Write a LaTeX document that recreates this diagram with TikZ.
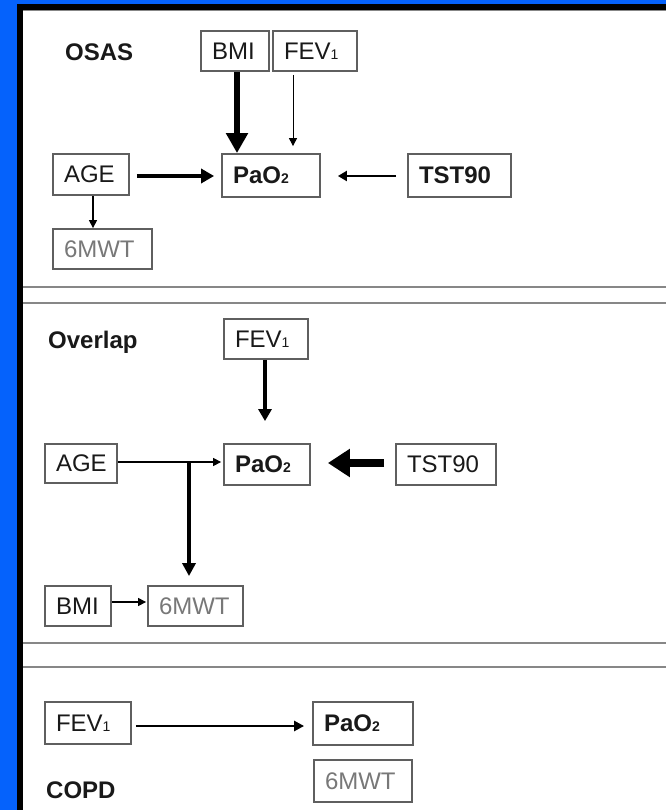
\documentclass[tikz,border=0pt]{standalone}
\usepackage{fontspec}
\setmainfont{Liberation Sans}
\usetikzlibrary{arrows.meta}
\definecolor{bgblue}{RGB}{5,98,252}
\definecolor{boxc}{RGB}{95,95,95}
\definecolor{txtc}{RGB}{25,25,25}
\definecolor{greyt}{RGB}{120,120,120}
\definecolor{sepc}{RGB}{135,135,135}
\newcommand{\lsub}[1]{{\fontsize{14}{14}\selectfont #1}}
\tikzset{
  bx/.style={draw=boxc, line width=1.8pt, inner xsep=11pt, inner ysep=0pt, align=left,
    text=txtc, font=\fontsize{24}{26}\selectfont},
  title/.style={anchor=west, inner sep=0pt, text=txtc, font=\fontsize{24}{26}\selectfont\bfseries},
  sep/.style={draw=sepc, line width=2pt},
  arrA/.style={line width=#1, draw=black},
}
\begin{document}
\begin{tikzpicture}[x=1pt,y=-1pt]
\useasboundingbox (0,0) rectangle (666,810);
\fill[bgblue] (0,0) rectangle (666,810);
\fill[black] (17,4) rectangle (666,810);
\fill[white] (23,10) rectangle (666,810);
\draw[sepc, line width=1.5pt] (23,10.5) -- (666,10.5);
\draw[sep] (23,287) -- (666,287);
\draw[sep] (23,303) -- (666,303);
\draw[sep] (23,643) -- (666,643);
\draw[sep] (23,667) -- (666,667);

% ---------- OSAS ----------
\node[title] (tosas) at (65,52) {OSAS};
\node[bx, text width=46pt, minimum height=40pt] (bmia) at (235,51) {BMI};
\node[bx, text width=62pt, minimum height=40pt] (feva) at (315,51) {FEV\lsub{1}};
\node[bx, text width=54pt, minimum height=41pt] (agea) at (91,174.5) {AGE};
\node[bx, text width=76pt, minimum height=43pt, font=\fontsize{24}{26}\selectfont\bfseries] (paoa) at (271,175.5) {PaO\lsub{2}};
\node[bx, text width=81pt, minimum height=43pt, font=\fontsize{24}{26}\selectfont\bfseries] (tsta) at (459.5,175.5) {TST90};
\node[bx, text width=77pt, minimum height=40pt, text=greyt] (mwta) at (102.5,249) {6MWT};

\draw[line width=6.5pt, -{Triangle[length=20pt,width=21pt]}] (bmia.south -| 237,0) -- (paoa.north -| 237,0);
\coordinate (fx) at (293,0);
\draw[line width=1pt, -{Triangle[length=8pt,width=8pt]}, shorten <=3pt, shorten >=7pt] (feva.south -| fx) -- (paoa.north -| fx);
\draw[line width=4pt, -{Triangle[length=13pt,width=14pt]}, shorten <=7pt, shorten >=7pt] (agea.east |- 0,176) -- (paoa.west |- 0,176);
\draw[line width=2.5pt, -{Triangle[length=9pt,width=10pt]}, shorten <=11pt, shorten >=17pt] (tsta.west |- 0,176) -- (paoa.east |- 0,176);
\coordinate (ax) at (93,0);
\draw[line width=1.2pt, -{Triangle[length=8pt,width=8pt]}] (agea.south -| ax) -- (mwta.north -| ax);

% ---------- Overlap ----------
\node[title] (tover) at (48,342) {Overlap};
\node[bx, text width=62pt, minimum height=40pt] (fevb) at (266,339) {FEV\lsub{1}};
\node[bx, text width=50pt, minimum height=39pt] (ageb) at (81,463.5) {AGE};
\node[bx, text width=64pt, minimum height=41pt, font=\fontsize{24}{26}\selectfont\bfseries] (paob) at (267,464.5) {PaO\lsub{2}};
\node[bx, text width=78pt, minimum height=41pt] (tstb) at (446,464.5) {TST90};
\node[bx, text width=44pt, minimum height=40pt] (bmib) at (78,606) {BMI};
\node[bx, text width=73pt, minimum height=40pt, text=greyt] (mwtb) at (195.5,606) {6MWT};

\coordinate (f2x) at (265,0);
\draw[line width=4pt, -{Triangle[length=12pt,width=13pt]}, shorten >=22pt] (fevb.south -| f2x) -- (paob.north -| f2x);
\draw[line width=1.2pt, -{Triangle[length=8pt,width=8pt]}, shorten >=2pt] (ageb.east |- 0,462) -- (paob.west |- 0,462);
\coordinate (j) at (189,462);
\draw[line width=4.5pt, -{Triangle[length=13pt,width=13pt]}, shorten >=9pt] (j) -- (j |- mwtb.north);
\draw[line width=8pt, -{Triangle[length=22pt,width=27pt]}, shorten <=11pt, shorten >=17pt] (tstb.west |- 0,463) -- (paob.east |- 0,463);
\draw[line width=1.2pt, -{Triangle[length=8pt,width=8pt]}, shorten >=1pt] (bmib.east |- 0,602) -- (mwtb.west |- 0,602);

% ---------- COPD ----------
\node[bx, text width=64pt, minimum height=42pt] (fevc) at (88,723) {FEV\lsub{1}};
\node[bx, text width=78pt, minimum height=43pt, font=\fontsize{24}{26}\selectfont\bfseries] (paoc) at (363,723.5) {PaO\lsub{2}};
\node[bx, text width=76pt, minimum height=42pt, text=greyt] (mwtc) at (363,781) {6MWT};
\node[title] (tcopd) at (46,790) {COPD};
\draw[line width=2.5pt, -{Triangle[length=10pt,width=10pt]}, shorten <=4pt, shorten >=8pt] (fevc.east |- 0,726) -- (paoc.west |- 0,726);
\end{tikzpicture}
\end{document}
